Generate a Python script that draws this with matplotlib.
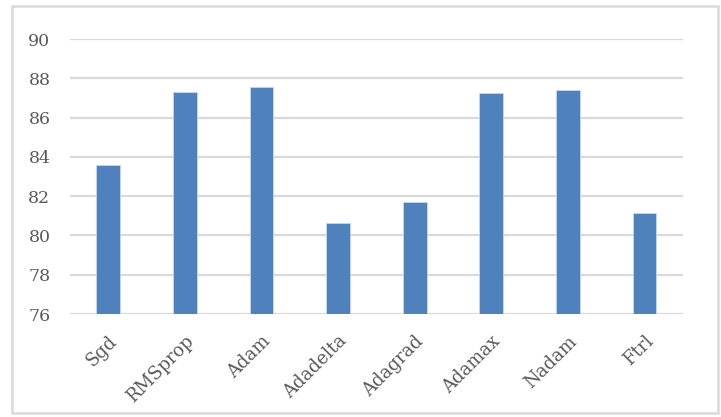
import matplotlib
matplotlib.use("Agg")
import matplotlib.pyplot as plt
from matplotlib.patches import Rectangle
import numpy as np

optimizers = ["Sgd", "RMSprop", "Adam", "Adadelta", "Adagrad", "Adamax", "Nadam", "Ftrl"]
accuracy = [83.61, 87.33, 87.59, 80.65, 81.72, 87.25, 87.42, 81.16]
y_ticks = [76, 78, 80, 82, 84, 86, 88, 90]

plt.rcParams["font.family"] = ["DejaVu Serif"]

fig = plt.figure(figsize=(7.21, 4.17), dpi=100)
ax = fig.add_axes([0.097, 0.247, 0.850, 0.659])

x = np.arange(len(optimizers))
ax.bar(x, [a - 76 for a in accuracy], bottom=76, width=0.31, color="#4f81bd",
       edgecolor="#c9d7ec", linewidth=0.6, zorder=3)

ax.set_ylim(76, 90)
ax.set_xlim(-0.5, len(optimizers) - 0.5)
ax.set_yticks(y_ticks)
ax.set_yticklabels([str(t) for t in y_ticks], fontsize=12.5, color="#595959")
ax.set_xticks(x)
ax.set_xticklabels(optimizers, rotation=45, ha="right", rotation_mode="anchor",
                   fontsize=13, color="#595959")
ax.tick_params(axis="x", length=0, pad=13)
ax.tick_params(axis="y", length=0, pad=14)

ax.grid(axis="y", color="#d9d9d9", linewidth=1.6, zorder=0)
for s in ax.spines.values():
    s.set_visible(False)

fig.patches.append(Rectangle((12 / 721, 4 / 417), 706 / 721, 407 / 417,
                             transform=fig.transFigure, fill=False,
                             edgecolor="#d9d9d9", linewidth=1.8))

fig.savefig("out.png", dpi=100)
